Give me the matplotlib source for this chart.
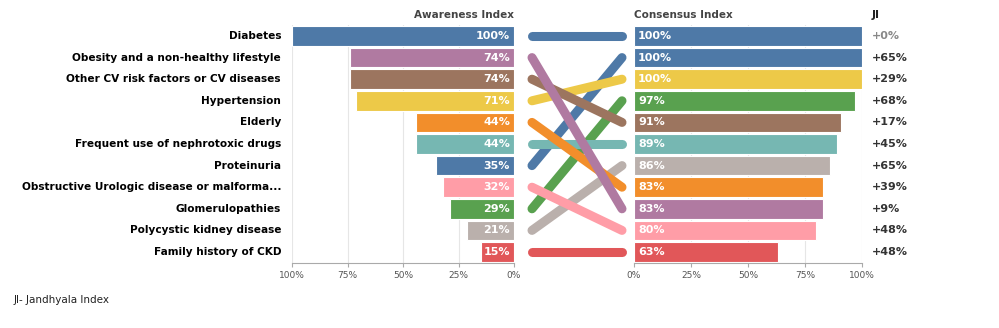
import matplotlib
matplotlib.use("Agg")
import matplotlib.pyplot as plt
from matplotlib.transforms import blended_transform_factory

plt.rcParams['font.family'] = ['DejaVu Sans']

# ---- data ----
categories = ['Diabetes', 'Obesity and a non-healthy lifestyle',
              'Other CV risk factors or CV diseases', 'Hypertension', 'Elderly',
              'Frequent use of nephrotoxic drugs', 'Proteinuria',
              'Obstructive Urologic disease or malforma...', 'Glomerulopathies',
              'Polycystic kidney disease', 'Family history of CKD']
awareness = [100, 74, 74, 71, 44, 44, 35, 32, 29, 21, 15]
consensus = [100, 83, 91, 100, 83, 89, 100, 80, 97, 86, 63]
ji = ['+0%', '+9%', '+17%', '+29%', '+39%', '+45%', '+65%', '+48%', '+68%', '+65%', '+48%']
# order of categories on the consensus side (top to bottom)
consensus_order = ['Diabetes', 'Proteinuria', 'Hypertension', 'Glomerulopathies',
                   'Other CV risk factors or CV diseases', 'Frequent use of nephrotoxic drugs',
                   'Polycystic kidney disease', 'Elderly', 'Obesity and a non-healthy lifestyle',
                   'Obstructive Urologic disease or malforma...', 'Family history of CKD']
colors = ['#4E79A7', '#B07AA1', '#9C755F', '#EDC948', '#F28E2B', '#76B7B2',
          '#4E79A7', '#FF9DA7', '#59A14F', '#BAB0AC', '#E15759']
ticks = [0, 25, 50, 75, 100]
tick_labels = ['0%', '25%', '50%', '75%', '100%']

W, H = 999, 328
fig = plt.figure(figsize=(W / 100, H / 100), dpi=100)

def box(x0, x1, y0=25.2, y1=262.8):
    return [x0 / W, 1 - y1 / H, (x1 - x0) / W, (y1 - y0) / H]

n = len(categories)
left_pos = list(range(n))
right_pos = [consensus_order.index(c) for c in categories]

ax_l = fig.add_axes(box(292, 514))
ax_m = fig.add_axes(box(532, 622))
ax_r = fig.add_axes(box(634, 862))

grid_c = '#e6e6e6'
for ax in (ax_l, ax_r):
    ax.set_ylim(n - 0.5, -0.5)
    ax.set_xlim(0, 100)
    ax.set_xticks(ticks)
    ax.set_xticklabels(tick_labels, fontsize=6.5, color='#555555')
    ax.tick_params(axis='x', length=3, color='#aaaaaa', pad=3)
    ax.set_yticks([])
    for s in ('top', 'left', 'right'):
        ax.spines[s].set_visible(False)
    ax.spines['bottom'].set_color('#aaaaaa')
    for t in ticks[1:]:
        ax.axvline(t, color=grid_c, lw=0.8, zorder=0)
ax_l.invert_xaxis()

label_tr = blended_transform_factory(fig.transFigure, ax_l.transData)
ji_tr = blended_transform_factory(fig.transFigure, ax_r.transData)

# awareness bars
ax_l.barh(left_pos, awareness, height=0.9, color=colors, edgecolor='white', lw=0.8, zorder=2)
for i, v in enumerate(awareness):
    ax_l.text(1.8, i, f'{v}%', ha='right', va='center', color='white',
              fontsize=8, fontweight='bold', zorder=3)
    ax_l.text(281 / W, i, categories[i], transform=label_tr,
              ha='right', va='center', fontsize=7.6, fontweight='bold', color='#000000')

# consensus bars
ax_r.barh(right_pos, consensus, height=0.9, color=colors, edgecolor='white', lw=0.8, zorder=2)
for i, v in enumerate(consensus):
    ax_r.text(1.8, right_pos[i], f'{v}%', ha='left', va='center', color='white',
              fontsize=8, fontweight='bold', zorder=3)
    ax_r.text(872 / W, right_pos[i], ji[i], transform=ji_tr,
              ha='left', va='center', fontsize=8, fontweight='bold',
              color='#888888' if ji[i] == '+0%' else '#333333')

# slope lines
ax_m.set_xlim(0, 1)
ax_m.set_ylim(n - 0.5, -0.5)
ax_m.axis('off')
for i in range(n):
    ax_m.plot([0, 1], [left_pos[i], right_pos[i]], color=colors[i], lw=6.5,
              solid_capstyle='round', clip_on=False, zorder=2 + (n - i) * 0.01)

# headers
fig.text(514 / W, 1 - 15 / H, 'Awareness Index', ha='right', va='center',
         fontsize=7.5, fontweight='bold', color='#444444')
fig.text(634 / W, 1 - 15 / H, 'Consensus Index', ha='left', va='center',
         fontsize=7.5, fontweight='bold', color='#444444')
fig.text(872 / W, 1 - 15 / H, 'JI', ha='left', va='center',
         fontsize=8, fontweight='bold', color='#222222')
fig.text(14 / W, 1 - 300 / H, 'JI- Jandhyala Index', ha='left', va='center',
         fontsize=7.5, color='#222222')

fig.savefig('out.png', dpi=100)
